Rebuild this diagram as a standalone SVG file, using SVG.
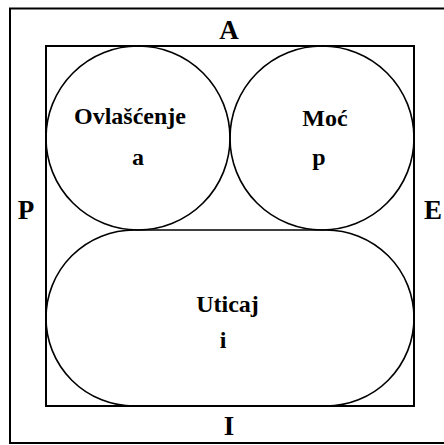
<svg xmlns="http://www.w3.org/2000/svg" width="444" height="445" viewBox="0 0 444 445">
<style>
.ln{fill:none;stroke:#000}
text{font-family:"Liberation Serif","Times New Roman",serif;font-weight:bold;fill:#000;text-anchor:middle}
.big{font-size:27px}
.sm{font-size:24px}
</style>
<rect width="444" height="445" fill="#fff"/>
<g id="outer"><rect class="ln" x="10" y="8.5" width="440" height="434.5" stroke-width="2"/></g>
<g id="inner"><rect class="ln" x="46" y="46" width="368" height="360" stroke-width="2"/></g>
<g id="labels">
<text class="big" x="229" y="38.5">A</text>
<text class="big" x="26" y="218.5">P</text>
<text class="big" x="433" y="218.5">E</text>
<text class="big" x="229" y="435">I</text>
</g>
<g id="ovlascenje">
<circle class="ln" cx="138" cy="138" r="92" stroke-width="1.6"/>
<text class="sm" x="130" y="124">Ovlašćenje</text>
<text class="sm" x="138" y="165">a</text>
</g>
<g id="moc">
<circle class="ln" cx="322" cy="138" r="92" stroke-width="1.6"/>
<text class="sm" x="325" y="126">Moć</text>
<text class="sm" x="319" y="165">p</text>
</g>
<g id="uticaj">
<rect class="ln" x="46" y="230" width="368" height="176" rx="88" ry="88" stroke-width="1.6"/>
<text class="sm" x="227.5" y="311.5">Uticaj</text>
<text class="sm" x="223" y="348">i</text>
</g>
<g id="connectors"></g>
</svg>
